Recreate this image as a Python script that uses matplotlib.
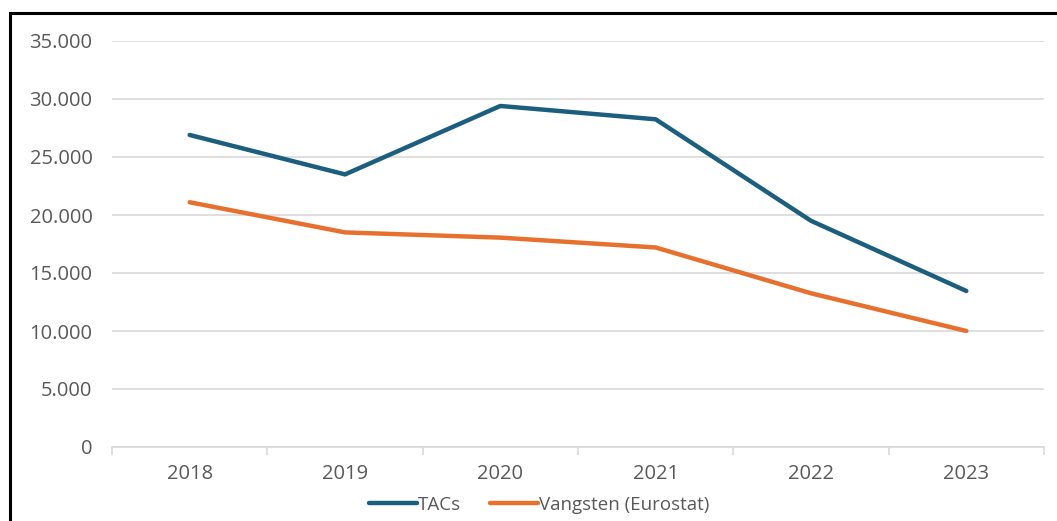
import matplotlib
matplotlib.use("Agg")
import matplotlib.pyplot as plt
from matplotlib.patches import Rectangle
from matplotlib.ticker import FuncFormatter

# Data
years = ["2018", "2019", "2020", "2021", "2022", "2023"]
tacs = [26900, 23500, 29400, 28250, 19500, 13450]
vangsten = [21100, 18500, 18050, 17200, 13250, 10000]

plt.rcParams['font.family'] = ['Open Sans', 'DejaVu Sans']
text_color = '#595959'
grid_color = '#d9d9d9'
fs = 14.5

fig = plt.figure(figsize=(10.57, 5.21), dpi=100)
ax = fig.add_axes([112 / 1057, 1 - 447 / 521, (1044 - 112) / 1057, (447 - 41) / 521])

x = list(range(len(years)))
ax.plot(x, tacs, color='#1b5e7e', lw=3.2, solid_capstyle='round', label='TACs')
ax.plot(x, vangsten, color='#e8702f', lw=3.2, solid_capstyle='round', label='Vangsten (Eurostat)')

ax.set_xlim(-0.5, len(years) - 0.5)
ax.set_ylim(0, 35000)
ax.set_yticks(range(0, 35001, 5000))
ax.yaxis.set_major_formatter(FuncFormatter(lambda v, p: f"{int(v):,}".replace(",", ".")))
ax.grid(axis='y', color=grid_color, lw=1.2)
ax.set_axisbelow(True)

for s in ['top', 'right', 'left']:
    ax.spines[s].set_visible(False)
ax.spines['bottom'].set_color(grid_color)
ax.spines['bottom'].set_linewidth(1.2)

ax.set_xticks(x)
ax.set_xticklabels(years)
ax.set_xticks([i - 0.5 for i in range(len(years) + 1)], minor=True)
ax.tick_params(axis='x', which='major', length=0, pad=12, labelsize=fs, labelcolor=text_color)
ax.tick_params(axis='x', which='minor', length=6, width=1.2, color=grid_color)
ax.tick_params(axis='y', length=0, pad=14, labelsize=fs, labelcolor=text_color)

fig.legend(loc='center', bbox_to_anchor=(0.51, 1 - 505 / 521), ncol=2, frameon=False,
           handlelength=2.6, handletextpad=0.05, columnspacing=1.5,
           prop={'size': 13.5}, labelcolor=text_color)

# outer frame (cut off at the bottom and right like the reference)
fig.patches.append(Rectangle((10 / 1057, -0.1), 1.2, 1 - 13 / 521 + 0.1,
                             transform=fig.transFigure, fill=False,
                             edgecolor='black', lw=2.2, clip_on=False))

fig.savefig("out.png", dpi=100, facecolor='white')
